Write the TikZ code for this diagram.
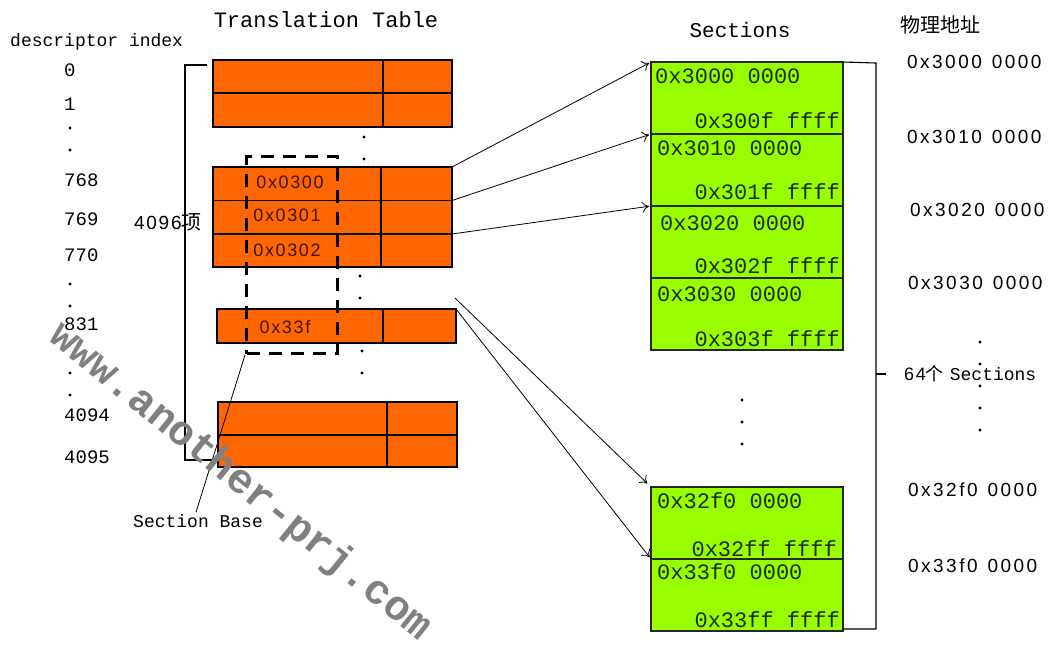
\documentclass[tikz,border=0pt]{standalone}
\usepackage{fontspec}
\usetikzlibrary{arrows.meta,calc}
\setmainfont{Liberation Mono}
\newfontfamily\monofam{Liberation Mono}
\newfontfamily\addrfont[LetterSpace=13]{Liberation Sans}
\newfontfamily\hexfont[LetterSpace=9]{Liberation Sans}
\newfontfamily\cjkfam{Noto Sans CJK SC}
\newcommand\fsz[1]{\fontsize{#1}{#1}\selectfont}
\newcommand\addrgap{\hspace{10pt}}
\definecolor{tblorange}{RGB}{255,102,0}
\definecolor{secgreen}{RGB}{153,255,0}
\definecolor{wmgray}{RGB}{128,128,128}
\definecolor{hextext}{RGB}{60,20,0}
\definecolor{gtext}{RGB}{25,45,0}

\begin{document}
\begin{tikzpicture}[x=1pt,y=-1pt,
  ocell/.style={draw=black, fill=tblorange, line width=1.1pt, inner sep=0, outer sep=0, anchor=north west},
  gcell/.style={draw=black!85, fill=secgreen, line width=1.1pt, inner sep=0, outer sep=0,
                anchor=north west, minimum width=192pt, minimum height=72pt},
  hexlbl/.style={font=\hexfont\fsz{18}, text=hextext, inner sep=0},
  gtop/.style={font=\monofam\fsz{22}, text=gtext, inner sep=0, anchor=west},
  gbot/.style={font=\monofam\fsz{22}, text=gtext, inner sep=0, anchor=east},
  idx/.style={font=\monofam\fsz{19}, inner sep=0, anchor=west},
  addr/.style={font=\addrfont\fsz{19}, inner sep=0, anchor=west},
  title/.style={font=\monofam\fsz{21}, inner sep=0},
  arr/.style={-{To[length=7pt,width=11pt]}, line width=0.8pt, shorten >=2pt},
  brk/.style={line width=1.1pt},
  dotm/.style={fill=black}
]
\useasboundingbox (0,0) rectangle (1055,649);
\fill[white] (0,0) rectangle (1055,649);

% ---- titles ----
\node[title, font=\monofam\fsz{22}] (ttl) at (326,20) {Translation Table};
\node[idx, font=\monofam\fsz{18}] (dix) at (10,42) {descriptor index};
\node[title] (secttl) at (740,30) {Sections};
\node[inner sep=0, anchor=west, font=\cjkfam\fsz{20}] (phys) at (900,25) {物理地址};

% ---- descriptor indices ----
\node[idx] (i0) at (64,70) {0};
\node[idx] (i1) at (64,104) {1};
\node[idx] (i768) at (64,180) {768};
\node[idx] (i769) at (64,219) {769};
\node[idx] (i770) at (64,255) {770};
\node[idx] (i831) at (64,324) {831};
\node[idx] (i4094) at (64,415) {4094};
\node[idx] (i4095) at (64,457) {4095};
\foreach \yy in {128,150,284,306,373,395}
  \fill[dotm] (70,\yy) circle (1.6pt);

% ---- bracket spanning the 4096 entries ----
\draw[brk] (207,65) -- (185,65) -- (185,460) -- (215,460);
\node[inner sep=0, anchor=west] (cnt) at (134,222) {{\hexfont\fsz{19}4096}{\cjkfam\fsz{20}项}};

% ---- translation table ----
\node[ocell, minimum width=170pt, minimum height=33pt] (t0L) at (213,60) {};
\node[ocell, minimum width=69pt,  minimum height=33pt] (t0R) at (383,60) {};
\node[ocell, minimum width=170pt, minimum height=34pt] (t1L) at (213,93) {};
\node[ocell, minimum width=69pt,  minimum height=34pt] (t1R) at (383,93) {};

\node[ocell, minimum width=168pt, minimum height=33.5pt] (t768L) at (213,167) {};
\node[ocell, minimum width=71pt,  minimum height=33.5pt] (t768R) at (381,167) {};
\node[ocell, minimum width=168pt, minimum height=33.5pt] (t769L) at (213,200.5) {};
\node[ocell, minimum width=71pt,  minimum height=33.5pt] (t769R) at (381,200.5) {};
\node[ocell, minimum width=168pt, minimum height=33pt] (t770L) at (213,234) {};
\node[ocell, minimum width=71pt,  minimum height=33pt] (t770R) at (381,234) {};

\node[ocell, minimum width=166pt, minimum height=34pt] (t831L) at (217,309) {};
\node[ocell, minimum width=73pt,  minimum height=34pt] (t831R) at (383,309) {};

\node[ocell, minimum width=169pt, minimum height=33pt] (t4094L) at (218,402) {};
\node[ocell, minimum width=70pt,  minimum height=33pt] (t4094R) at (387,402) {};
\node[ocell, minimum width=169pt, minimum height=32pt] (t4095L) at (218,435) {};
\node[ocell, minimum width=70pt,  minimum height=32pt] (t4095R) at (387,435) {};

\foreach \xx/\yy in {364/137,364/159,360/276,360/298,362/351,362/373}
  \fill[dotm] (\xx,\yy) circle (1.6pt);

% ---- section base entries ----
\node[draw, line width=3pt, dash pattern=on 13pt off 9pt, inner sep=0, anchor=north west,
      minimum width=91pt, minimum height=197pt] (sel) at (245,155) {};
\node[hexlbl] (h300) at (290,182) {0x0300};
\node[hexlbl] (h301) at (287,215) {0x0301};
\node[hexlbl] (h302) at (287,250) {0x0302};
\node[hexlbl] (h33f) at (285,327) {0x33f};

\node[idx, font=\monofam\fsz{18}] (sbase) at (133,521) {Section Base};
\draw[line width=0.8pt] (sbase.north) ++(-2,-2) coordinate (sbtip) (sbtip) -- (sel.south west);

% ---- sections ----
\node[gcell] (s0) at (651,62) {};
\node[gcell] (s1) at (651,134) {};
\node[gcell] (s2) at (651,206) {};
\node[gcell] (s3) at (651,278) {};
\node[gcell] (s62) at (651,487) {};
\node[gcell] (s63) at (651,559) {};

\node[gtop] (a0) at ($(s0.north west)+(4,14)$) {0x3000 0000};
\node[gbot] (b0) at ($(s0.north east)+(-3,59)$) {0x300f ffff};
\node[gtop] (a1) at ($(s1.north west)+(6,14)$) {0x3010 0000};
\node[gbot] (b1) at ($(s1.north east)+(-3,58)$) {0x301f ffff};
\node[gtop] (a2) at ($(s2.north west)+(9,17)$) {0x3020 0000};
\node[gbot] (b2) at ($(s2.north east)+(-3,60)$) {0x302f ffff};
\node[gtop] (a3) at ($(s3.north west)+(6,16)$) {0x3030 0000};
\node[gbot] (b3) at ($(s3.north east)+(-3,61)$) {0x303f ffff};
\node[gtop] (a62) at ($(s62.north west)+(6,14)$) {0x32f0 0000};
\node[gbot] (b62) at ($(s62.north east)+(-6,62)$) {0x32ff ffff};
\node[gtop] (a63) at ($(s63.north west)+(6,13)$) {0x33f0 0000};
\node[gbot] (b63) at ($(s63.north east)+(-3,61)$) {0x33ff ffff};

\foreach \yy in {400,422,444}
  \fill[dotm] (742,\yy) circle (1.6pt);

% ---- table entries point to their sections ----
\draw[arr] (t768R.north east) -- (s0.north west);
\draw[arr] (t769R.north east) -- (s1.north west);
\draw[arr] (t770R.north east) -- (s2.north west);
\coordinate (gapout) at (455,298);
\draw[arr, shorten >=5pt] (gapout) -- (s62.north west);
\draw[arr] (t831R.north east) -- (s63.north west);

% ---- 64 sections bracket ----
\draw[brk] (s0.north east) -- (876,63) -- (876,629) -- (s63.south east |- 0,629);
\draw[brk] (876,374) -- (886,374);
\node[inner sep=0, anchor=west] (n64) at (904,374)
  {{\hexfont\fsz{18}64}{\cjkfam\fsz{18}个} {\monofam\fsz{18}Sections}};

% ---- physical addresses ----
\node[addr] (p0) at (907,62) {0x3000\addrgap 0000};
\node[addr] (p1) at (907,137) {0x3010\addrgap 0000};
\node[addr] (p2) at (910,210) {0x3020\addrgap 0000};
\node[addr] (p3) at (908,283) {0x3030\addrgap 0000};
\node[addr] (p62) at (908,490) {0x32f0\addrgap 0000};
\node[addr] (p63) at (908,566) {0x33f0\addrgap 0000};
\foreach \yy in {342,364,386,408,430}
  \fill[dotm] (980,\yy) circle (1.6pt);

% ---- watermark ----
\node[rotate=-39, text=wmgray, font=\monofam\bfseries\fsz{42}, inner sep=0] (wm) at (240,482)
  {www.another-prj.com};
\end{tikzpicture}
\end{document}
